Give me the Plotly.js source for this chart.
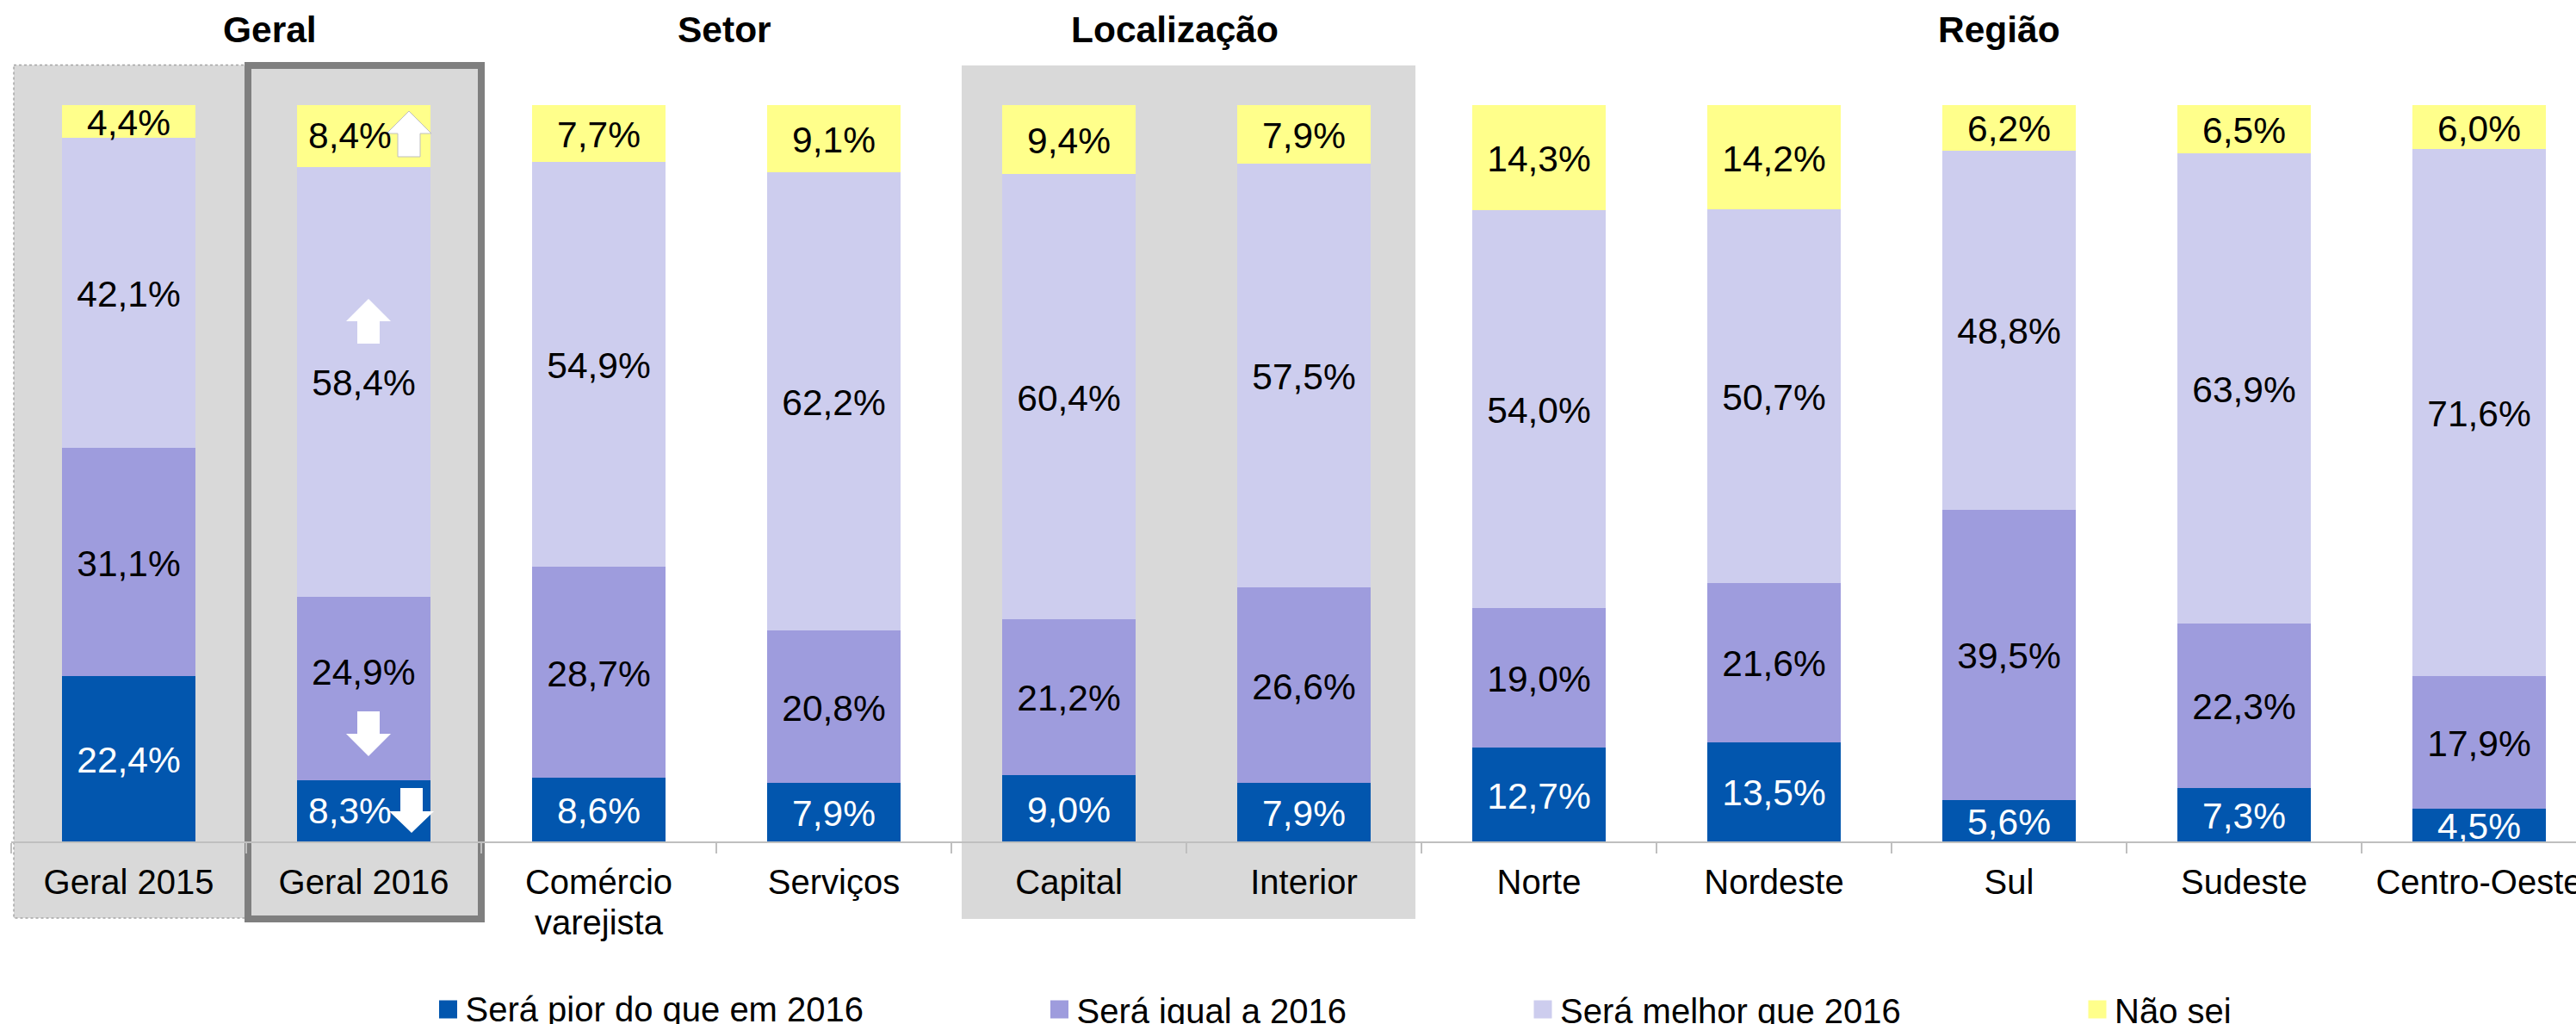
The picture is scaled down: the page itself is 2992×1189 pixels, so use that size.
<!DOCTYPE html>
<html>
<head>
<meta charset="utf-8">
<script src="https://cdn.plot.ly/plotly-3.0.1.min.js"></script>
<style>html,body{margin:0;padding:0;background:#fff;overflow:hidden}</style>
</head>
<body>
<div id="chart" style="width:2992px;height:1189px"></div>
<script>
var categories = ['Geral 2015','Geral 2016','Comércio<br>varejista','Serviços','Capital','Interior','Norte','Nordeste','Sul','Sudeste','Centro-Oeste'];
var seriesNames = ['Será pior do que em 2016','Será igual a 2016','Será melhor que 2016','Não sei'];
var pior   = [22.4, 8.3, 8.6, 7.9, 9.0, 7.9, 12.7, 13.5, 5.6, 7.3, 4.5];
var igual  = [31.1,24.9,28.7,20.8,21.2,26.6, 19.0, 21.6,39.5,22.3,17.9];
var melhor = [42.1,58.4,54.9,62.2,60.4,57.5, 54.0, 50.7,48.8,63.9,71.6];
var naoSei = [ 4.4, 8.4, 7.7, 9.1, 9.4, 7.9, 14.3, 14.2, 6.2, 6.5, 6.0];
var colors = ['#0256AE','#9E9CDD','#CDCDEE','#FFFF8B'];
var textColors = ['#ffffff','#000000','#000000','#000000'];
var groupTitles = ['Geral','Setor','Localização','Região'];
var groupTitleX = [313, 841, 1364, 2322];
var legendX = [500.5, 1210.5, 1772, 2416];

var FONT = '"Liberation Sans", Arial, sans-serif';
var LABEL_SIZE = 42.5;
var W = 2992, H = 1189, L = 13, T = 122, B = 977;
function px(x){ return (x - L) / (W - L); }
function py(y){ return (B - y) / (B - T); }
function fmt(v){ return v.toFixed(1).replace('.', ',') + '%'; }
var all = [pior, igual, melhor, naoSei];
var shifted = 1; // Geral 2016: these labels are moved aside to make room for the arrows

var traces = all.map(function(vals, s){
  var lab = vals.map(fmt);
  if (s !== 2) lab[shifted] = '';
  return {
    type:'bar', name:seriesNames[s], x:categories, y:vals,
    marker:{color:colors[s], line:{width:0}},
    text:lab, textposition:'inside', insidetextanchor:'middle', textangle:0,
    constraintext:'none', cliponaxis:false,
    insidetextfont:{family:FONT,size:LABEL_SIZE,color:textColors[s]},
    hoverinfo:'skip',
    legend: s === 0 ? 'legend' : 'legend' + (s + 1)
  };
});

function rectShape(x0,y0,x1,y1,fill,line,layer){
  return {type:'rect',xref:'paper',yref:'paper',x0:px(x0),x1:px(x1),y0:py(y0),y1:py(y1),
          fillcolor:fill,line:line||{width:0},layer:layer||'below'};
}
function arrow(pts,line){
  var d = pts.map(function(p,i){return (i?'L':'M')+px(p[0])+','+py(p[1]);}).join('')+'Z';
  return {type:'path',xref:'paper',yref:'paper',path:d,fillcolor:'#ffffff',line:line||{width:0},layer:'above'};
}
function up(cx,tip,base,bot,hw,sw){
  return [[cx,tip],[cx+hw,base],[cx+sw,base],[cx+sw,bot],[cx-sw,bot],[cx-sw,base],[cx-hw,base]];
}
function down(cx,top,base,tip,hw,sw){
  return [[cx-sw,top],[cx+sw,top],[cx+sw,base],[cx+hw,base],[cx,tip],[cx-hw,base],[cx-sw,base]];
}
var shapes = [
  rectShape(16,75.5,288,1066,'#D9D9D9',{color:'#A6A6A6',width:1.5,dash:'dot'}),
  rectShape(288,76,559,1067,'#D9D9D9',{color:'#7F7F7F',width:8}),
  rectShape(1117,76,1644,1067,'#D9D9D9'),
  arrow(up(475,129,155,182,26,13),{color:'#BFBFBF',width:1}),
  arrow(up(428,347,373,399,26,13)),
  arrow(down(428,826,852,878,26,13)),
  arrow(down(478,915,942,967,26,13))
];

var annotations = groupTitles.map(function(t,i){
  return {xref:'paper',yref:'paper',x:px(groupTitleX[i]),y:py(35),text:'<b>'+t+'</b>',showarrow:false,
          xanchor:'center',yanchor:'middle',font:{family:FONT,size:42.5,color:'#000'}};
});
// labels of Geral 2016 moved aside by the arrows
annotations.push({x:categories[shifted],y:pior[shifted]/2,xref:'x',yref:'y',text:fmt(pior[shifted]),showarrow:false,
  xshift:-16,font:{family:FONT,size:LABEL_SIZE,color:'#fff'}});
annotations.push({x:categories[shifted],y:pior[shifted]+igual[shifted]/2,xref:'x',yref:'y',text:fmt(igual[shifted]),showarrow:false,
  yshift:19.5,font:{family:FONT,size:LABEL_SIZE,color:'#000'}});
annotations.push({x:categories[shifted],y:100-naoSei[shifted]/2,xref:'x',yref:'y',text:fmt(naoSei[shifted]),showarrow:false,
  xshift:-16,font:{family:FONT,size:LABEL_SIZE,color:'#000'}});

var layout = {
  width:W,height:H,margin:{l:L,r:0,t:T,b:H-B,pad:0},
  paper_bgcolor:'#fff',plot_bgcolor:'rgba(0,0,0,0)',
  barmode:'stack',barnorm:'percent',bargap:0.429,
  font:{family:FONT,size:40,color:'#000'},
  xaxis:{type:'category',categoryorder:'array',categoryarray:categories,range:[-0.5,(W-L)/273-0.5],
    tickson:'boundaries',ticks:'outside',ticklen:12,tickwidth:2,tickcolor:'#BFBFBF',
    showline:true,linecolor:'#BFBFBF',linewidth:2,showgrid:false,zeroline:false,
    tickangle:0,tickfont:{family:FONT,size:40,color:'#000'},ticklabelstandoff:11,fixedrange:true,automargin:false},
  yaxis:{range:[0,100],visible:false,fixedrange:true,automargin:false},
  shapes:shapes,annotations:annotations,showlegend:true,hovermode:false
};
legendX.forEach(function(x,i){
  layout[i===0?'legend':'legend'+(i+1)] = {xref:'container',yref:'container',x:x/W,y:(H-1172)/H,xanchor:'left',yanchor:'middle',
    orientation:'h',bgcolor:'rgba(0,0,0,0)',borderwidth:0,font:{family:FONT,size:40,color:'#000'}};
});

Plotly.newPlot('chart',traces,layout,{displayModeBar:false,staticPlot:true}).then(function(gd){
  // legend swatches as in the reference: 21 px squares
  gd.querySelectorAll('.legendpoints path').forEach(function(p){ p.setAttribute('d','M10.5,10.5H-10.5V-10.5H10.5Z'); });
  // legend text sits slightly higher against its swatch
  gd.querySelectorAll('text.legendtext').forEach(function(t){ t.setAttribute('y', parseFloat(t.getAttribute('y')||0) - 2); });
  // tighter line spacing in the two-line tick label
  gd.querySelectorAll('.xtick text tspan.line').forEach(function(t){
    if(parseFloat(t.getAttribute('dy')) > 0) t.setAttribute('dy','1.165em');
  });
  // bar labels sit a little lower than the exact centre
  gd.querySelectorAll('text.bartext').forEach(function(t){
    t.setAttribute('transform','translate(0,1.5) ' + (t.getAttribute('transform')||''));
  });
});
</script>
</body>
</html>
